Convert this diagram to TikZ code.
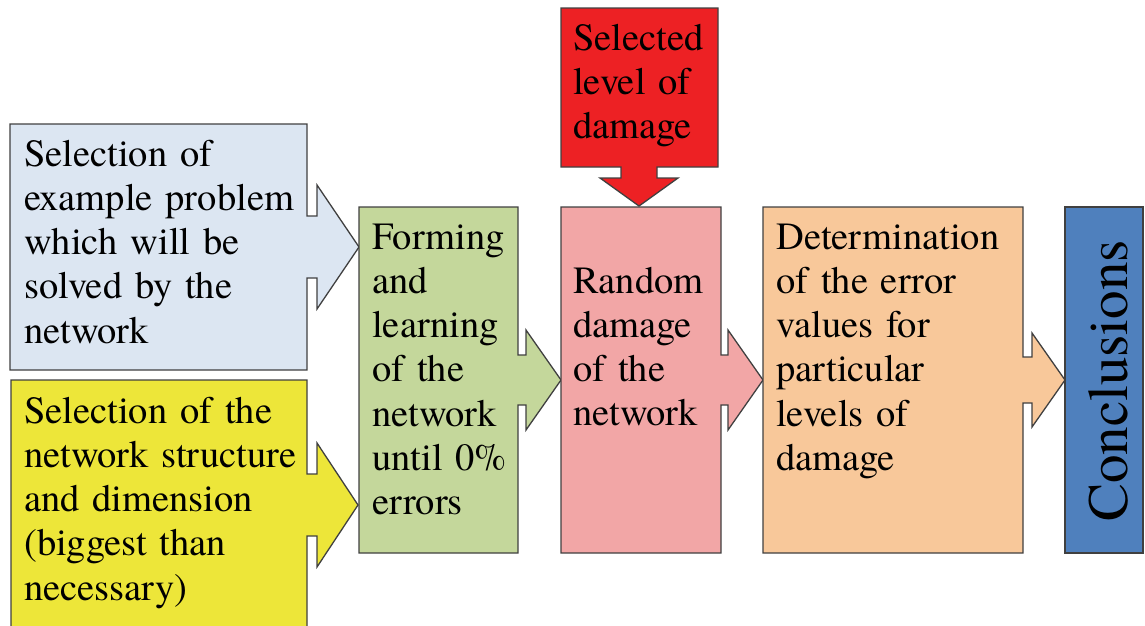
\documentclass[tikz,border=0pt]{standalone}
\usepackage{fontspec}
\newfontfamily\tnr{texgyretermes-regular.otf}
\definecolor{cBlueL}{HTML}{DCE6F2}
\definecolor{cYellow}{HTML}{EDE639}
\definecolor{cGreen}{HTML}{C4D79B}
\definecolor{cPink}{HTML}{F2A6A6}
\definecolor{cRed}{HTML}{ED2124}
\definecolor{cOrange}{HTML}{F8C89A}
\definecolor{cBlueD}{HTML}{4F80BD}
\definecolor{cEdge}{HTML}{404040}
\tikzset{
  shapebox/.style={draw=cEdge, line width=1.3pt, line join=miter},
  boxtext/.style={anchor=base west, inner sep=0pt, text width=330pt, align=left,
    font=\tnr\fontsize{38.5}{44.3}\selectfont},
}
\begin{document}
\begin{tikzpicture}[x=1pt,y=-1pt]
\useasboundingbox (0,0) rectangle (1145,625);
\begin{scope}
\clip (0,0) rectangle (1145,625);
% blue callout
\draw[shapebox, fill=cBlueL] (10,124) -- (307,124) -- (307,216) -- (317,216) -- (317,185)
  -- (359,247) -- (317,309) -- (317,278) -- (307,278) -- (307,370) -- (10,370) -- cycle;
% yellow callout
\draw[shapebox, fill=cYellow] (11,380) -- (307,380) -- (307,474) -- (317,474) -- (317,443)
  -- (358,505) -- (317,567) -- (317,536) -- (307,536) -- (307,640) -- (11,640) -- cycle;
% green callout
\draw[shapebox, fill=cGreen] (359,207) -- (518,207) -- (518,355) -- (526,355) -- (526,330)
  -- (561,380) -- (526,430) -- (526,405) -- (518,405) -- (518,553) -- (359,553) -- cycle;
% pink callout
\draw[shapebox, fill=cPink] (561,207) -- (721,207) -- (721,355) -- (728,355) -- (728,330)
  -- (763,380) -- (728,430) -- (728,405) -- (721,405) -- (721,553) -- (561,553) -- cycle;
% orange callout
\draw[shapebox, fill=cOrange] (763,207) -- (1023,207) -- (1023,357) -- (1032,357) -- (1032,333)
  -- (1065,380) -- (1032,427) -- (1032,403) -- (1023,403) -- (1023,553) -- (763,553) -- cycle;
% conclusions box
\draw[shapebox, fill=cBlueD] (1065,207) rectangle (1143,553);
% red down callout
\draw[shapebox, fill=cRed] (561,8) -- (718,8) -- (718,167) -- (657,167) -- (657,178) -- (678,178)
  -- (639,206) -- (600,178) -- (621,178) -- (621,167) -- (561,167) -- cycle;
\end{scope}
% texts
\node[boxtext] (tBlue) at (24,166) {Selection of\\example problem\\which will be\\solved by the\\network};
\node[boxtext] (tYellow) at (24,423) {Selection of the\\network structure\\and dimension\\(biggest than\\necessary)};
\node[boxtext] (tGreen) at (372,249) {Forming\\and\\learning\\of the\\network\\until 0\%\\errors};
\node[boxtext] (tPink) at (573,293) {Random\\damage\\of the\\network};
\node[boxtext] (tOrange) at (776,249) {Determination\\of the error\\values for\\particular\\levels of\\damage};
\node[boxtext] (tRed) at (573,50) {Selected\\level of\\damage};
\node[rotate=90, anchor=base, inner sep=0pt, font=\tnr\fontsize{57}{60}\selectfont] (tConc) at (1127,381) {Conclusions};
\end{tikzpicture}
\end{document}
